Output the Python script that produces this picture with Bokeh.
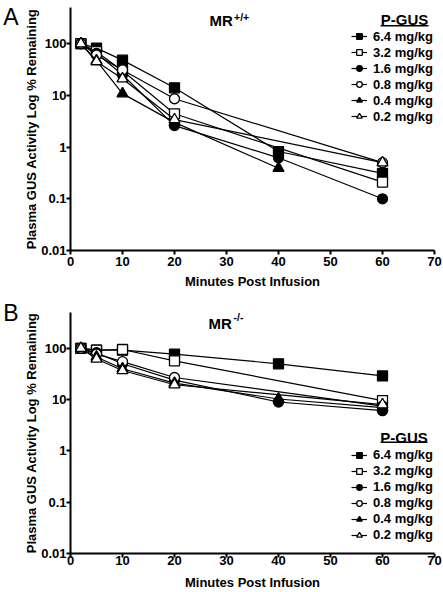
import math
from bokeh.plotting import figure
from bokeh.models import (Range1d, FixedTicker, CustomJSTickFormatter, Label, Legend,
                          LegendItem, BoxAnnotation, ColumnDataSource, LinearAxis,
                          LinearScale)
from bokeh.layouts import column
from bokeh.embed import file_html
from bokeh.resources import INLINE

# ---------------- data ----------------
times = [2, 5, 10, 20, 40, 60]
doses = ["6.4 mg/kg", "3.2 mg/kg", "1.6 mg/kg", "0.8 mg/kg", "0.4 mg/kg", "0.2 mg/kg"]

# Panel A : MR+/+  (None = no measurement at that time)
a_64 = [100, 82, 48, 14, 0.82, 0.31]
a_32 = [100, 70, 30, 4.4, None, 0.21]
a_16 = [100, 65, 25, 2.6, 0.62, 0.10]
a_08 = [100, 60, 31, 8.6, None, 0.50]
a_04 = [100, 47, 10.8, 3.0, 0.39, None]
a_02 = [100, 45, 21, 3.4, None, 0.50]

# Panel B : MR-/-
b_64 = [100, 92, 92, 77, 50, 29]
b_32 = [100, 92, 95, 57, None, 9.6]
b_16 = [100, 82, 50, 24, 9.0, 6.1]
b_08 = [100, 77, 55, 27, None, 7.5]
b_04 = [100, 68, 40, 21, 10.3, 7.0]
b_02 = [100, 62, 37, 19.5, None, 8.0]

x_ticks = [0, 10, 20, 30, 40, 50, 60, 70]
y_ticks = [0.01, 0.1, 1, 10, 100]
y_tick_labels = ["0.01", "0.1", "1", "10", "100"]

# ---------------- style ----------------
FONT = "Liberation Sans"
markers = ["square", "square", "circle", "circle", "triangle", "triangle"]
fills = ["black", "white", "black", "white", "black", "white"]
sizes = [10, 10, 10, 10, 11, 11]
X_MAX = 70
Y_MIN = 0.01


def make_panel(series, height, top_border, bottom_border, ymax, letter, letter_pos,
               sup, lab_pos, legend_bottom, xl_standoff, xa_standoff):
    width = 443
    left, right = 69, 9
    p = figure(width=width, height=height, x_range=Range1d(0, X_MAX),
               y_range=Range1d(Y_MIN, ymax), y_axis_type="log",
               output_backend="svg", toolbar_location=None,
               min_border_left=left, min_border_right=right,
               min_border_top=top_border, min_border_bottom=bottom_border)
    p.outline_line_color = None
    p.xgrid.grid_line_color = None
    p.ygrid.grid_line_color = None
    p.background_fill_color = "white"
    p.border_fill_color = "white"

    # canvas pixel -> data coordinates of this frame (for the heading underline)
    fw = width - left - right
    fh = height - top_border - bottom_border

    def px2x(cx):
        return (cx - left) / fw * X_MAX

    def py2y(cy):
        lo, hi = math.log10(Y_MIN), math.log10(ymax)
        return 10 ** (hi - (cy - top_border) / fh * (hi - lo))

    for ax in (p.xaxis[0], p.yaxis[0]):
        ax.axis_line_width = 2
        ax.axis_line_color = "black"
        ax.major_tick_line_width = 2
        ax.major_tick_line_color = "black"
        ax.major_tick_in = 0
        ax.major_tick_out = 4
        ax.minor_tick_line_color = None
        ax.major_label_text_font = FONT
        ax.major_label_text_font_style = "bold"
        ax.major_label_text_font_size = "13px"
        ax.major_label_text_color = "black"
        ax.axis_label_text_font = FONT
        ax.axis_label_text_font_style = "bold"
        ax.axis_label_text_font_size = "13px"
        ax.axis_label_text_color = "black"

    p.xaxis.ticker = FixedTicker(ticks=x_ticks)
    p.xaxis.major_label_standoff = xl_standoff
    p.xaxis.axis_label = "Minutes Post Infusion"
    p.xaxis.axis_label_standoff = xa_standoff

    p.yaxis.ticker = FixedTicker(ticks=y_ticks)
    p.yaxis.formatter = CustomJSTickFormatter(
        args=dict(vals=y_ticks, labs=y_tick_labels),
        code="""
        const i = vals.findIndex(v => Math.abs(Math.log10(v) - Math.log10(tick)) < 1e-6);
        return i >= 0 ? labs[i] : '';
        """)
    p.yaxis.major_label_standoff = 0
    p.yaxis.axis_label = "Plasma GUS Activity Log % Remaining"
    p.yaxis.axis_label_standoff = -1

    # panel letter: an invisible extra axis on the far left carrying one label
    p.extra_y_ranges = {"letter": Range1d(0, 1)}
    p.extra_y_scales = {"letter": LinearScale()}
    lax = LinearAxis(y_range_name="letter", ticker=FixedTicker(ticks=[letter_pos]),
                     formatter=CustomJSTickFormatter(args=dict(t=letter), code="return t;"),
                     axis_line_color=None, major_tick_line_color=None,
                     minor_tick_line_color=None, major_tick_in=0, major_tick_out=0,
                     major_label_standoff=3, major_label_text_font=FONT,
                     major_label_text_font_size="23px", major_label_text_color="black")
    p.add_layout(lax, "left")

    items = []
    for vals, lab, mk, fc, sz in zip(series, doses, markers, fills, sizes):
        xs = [t for t, v in zip(times, vals) if v is not None]
        ys = [v for v in vals if v is not None]
        src = ColumnDataSource(dict(x=xs, y=ys))
        rl = p.line("x", "y", source=src, line_color="black", line_width=1.2)
        rs = p.scatter("x", "y", source=src, marker=mk, size=sz,
                       fill_color=fc, line_color="black", line_width=1.3)
        items.append(LegendItem(label=lab, renderers=[rl, rs]))

    leg = Legend(items=items, location=(281, legend_bottom),
                 border_line_color=None, background_fill_alpha=0,
                 padding=0, margin=0, spacing=1,
                 glyph_width=16, glyph_height=14, label_height=14,
                 label_standoff=6, label_text_font=FONT,
                 label_text_font_style="bold", label_text_font_size="13px",
                 label_text_color="black")
    p.add_layout(leg)

    # heading texts, in canvas pixels of this figure (top-left origin)
    (mx, my), (sx, sy), (px, py), (ux0, ux1, uy) = lab_pos
    p.add_layout(Label(x=mx, y=my, x_units="canvas", y_units="canvas", text="MR",
                       text_font=FONT, text_font_size="15px", text_font_style="bold",
                       text_color="black", text_align="left", text_baseline="alphabetic"))
    p.add_layout(Label(x=sx, y=sy, x_units="canvas", y_units="canvas", text=sup,
                       text_font=FONT, text_font_size="10.5px", text_font_style="bold",
                       text_color="black", text_align="left", text_baseline="alphabetic"))
    p.add_layout(Label(x=px, y=py, x_units="canvas", y_units="canvas", text="P-GUS",
                       text_font=FONT, text_font_size="15px", text_font_style="bold",
                       text_color="black", text_align="center", text_baseline="alphabetic"))
    # underline below the legend heading
    p.add_layout(BoxAnnotation(left=px2x(ux0), right=px2x(ux1),
                               top=py2y(uy), bottom=py2y(uy + 1.5),
                               fill_color="black", fill_alpha=1, line_color=None))
    return p


pa = make_panel([a_64, a_32, a_16, a_08, a_04, a_02], 296, 7, 46, 500, "A", 0.989, "+/+",
                [(209, 20), (233.5, 16.5), (404, 19.3), (380, 428, 24.5)],
                126.5, 2, 5)
pb = make_panel([b_64, b_32, b_16, b_08, b_04, b_02], 296, 16, 36, 500, "B", 0.998, "-/-",
                [(208, 27), (233, 20.5), (403.5, 140.7), (380, 427, 146.5)],
                11, -2, 7)

layout = column(pa, pb)
open("out.html", "w").write(file_html(layout, INLINE))
